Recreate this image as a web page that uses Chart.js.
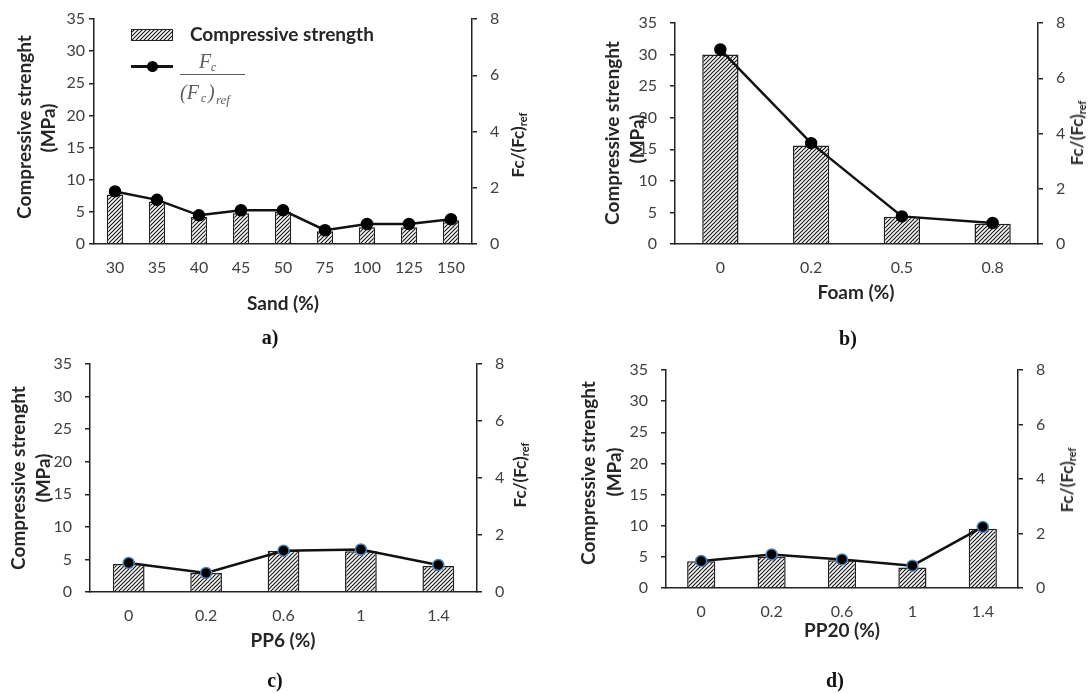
<!DOCTYPE html>
<html>
<head>
<meta charset="utf-8">
<script src="https://cdn.jsdelivr.net/npm/chart.js@4.4.1/dist/chart.umd.min.js"></script>
<style>
  body { margin: 0; background: #fff; }
  #wrap { position: relative; width: 1091px; height: 693px; overflow: hidden; font-family: Lato, sans-serif; }
  canvas { position: absolute; }
  .t { position: absolute; white-space: nowrap; transform: translate(-50%, -50%); color: #262626; font-weight: bold; font-size: 19px; }
  .rot { transform: translate(-50%, -50%) rotate(-90deg); }
  .r { font-size: 17px; }
  .r sub { font-size: 11px; vertical-align: -3px; }
  .cap { font-family: "Liberation Serif", serif; font-size: 20px; color: #111; }
</style>
</head>
<body>
<div id="wrap">
  <!-- axis titles -->
  <div class="t rot" style="left:23px;top:127px">Compressive strenght</div>
  <div class="t rot" style="left:47px;top:128px">(MPa)</div>
  <div class="t rot r" style="left:518px;top:145px">Fc/(Fc)<sub>ref</sub></div>
  <div class="t" style="left:283px;top:302px">Sand (%)</div>
  <div class="t cap" style="left:270px;top:337px">a)</div>

  <div class="t rot" style="left:611px;top:133px">Compressive strenght</div>
  <div class="t rot" style="left:636px;top:139px">(MPa)</div>
  <div class="t rot r" style="left:1077px;top:133px">Fc/(Fc)<sub>ref</sub></div>
  <div class="t" style="left:856px;top:291px">Foam (%)</div>
  <div class="t cap" style="left:848px;top:338px">b)</div>

  <div class="t rot" style="left:17px;top:478px">Compressive strenght</div>
  <div class="t rot" style="left:42px;top:478px">(MPa)</div>
  <div class="t rot r" style="left:520px;top:475px">Fc/(Fc)<sub>ref</sub></div>
  <div class="t" style="left:283px;top:639px">PP6 (%)</div>
  <div class="t cap" style="left:275px;top:680px">c)</div>

  <div class="t rot" style="left:587px;top:473px">Compressive strenght</div>
  <div class="t rot" style="left:613px;top:472px">(MPa)</div>
  <div class="t rot r" style="left:1067px;top:480px">Fc/(Fc)<sub>ref</sub></div>
  <div class="t" style="left:842px;top:629px">PP20 (%)</div>
  <div class="t cap" style="left:835px;top:680px">d)</div>
</div>
<script>
// data
const sandLabels = ['30', '35', '40', '45', '50', '75', '100', '125', '150'];
const sandStrength = [7.7, 6.6, 4.2, 4.8, 5.0, 2.0, 2.6, 2.6, 3.7];
const sandRatio = [1.87, 1.57, 1.02, 1.2, 1.2, 0.49, 0.71, 0.71, 0.88];

const foamLabels = ['0', '0.2', '0.5', '0.8'];
const foamStrength = [30.0, 15.6, 4.3, 3.2];
const foamRatio = [7.04, 3.65, 1.0, 0.76];

const pp6Labels = ['0', '0.2', '0.6', '1', '1.4'];
const pp6Strength = [4.3, 2.9, 6.35, 6.25, 4.0];
const pp6Ratio = [1.02, 0.67, 1.45, 1.49, 0.95];

const pp20Labels = ['0', '0.2', '0.6', '1', '1.4'];
const pp20Strength = [4.3, 5.0, 4.45, 3.3, 9.5];
const pp20Ratio = [0.99, 1.23, 1.05, 0.82, 2.24];

// hatch fill for the bars
function makeHatch() {
    const s = 4;
    const c = document.createElement('canvas');
    c.width = s;
    c.height = s;
    const g = c.getContext('2d');
    g.fillStyle = '#fff';
    g.fillRect(0, 0, s, s);
    g.strokeStyle = '#1a1a1a';
    g.lineWidth = 1.2;
    g.beginPath();
    g.moveTo(0, s); g.lineTo(s, 0);
    g.moveTo(-1, 1); g.lineTo(1, -1);
    g.moveTo(s - 1, s + 1); g.lineTo(s + 1, s - 1);
    g.stroke();
    return g.createPattern(c, 'repeat');
}
const hatch = makeHatch();

// legend only in panel a
const legendA = {
    id: 'legendA',
    afterDraw(chart) {
        const ctx = chart.ctx;
        ctx.save();
        ctx.fillStyle = hatch;
        ctx.fillRect(131, 29, 41, 11);
        ctx.strokeStyle = '#222';
        ctx.lineWidth = 1;
        ctx.strokeRect(131.5, 29.5, 41, 11);

        ctx.fillStyle = '#262626';
        ctx.font = 'bold 19px Lato';
        ctx.textBaseline = 'middle';
        ctx.fillText('Compressive strength', 190, 35);

        ctx.strokeStyle = '#111';
        ctx.lineWidth = 3;
        ctx.beginPath();
        ctx.moveTo(131, 66.5);
        ctx.lineTo(173, 66.5);
        ctx.stroke();
        ctx.fillStyle = '#000';
        ctx.beginPath();
        ctx.arc(152.5, 66.5, 5.5, 0, Math.PI * 2);
        ctx.fill();

        // Fc / (Fc)ref
        ctx.fillStyle = '#5e5e5e';
        ctx.strokeStyle = '#5e5e5e';
        ctx.textBaseline = 'alphabetic';
        ctx.font = 'italic 20px "Liberation Serif"';
        ctx.fillText('F', 199, 68);
        ctx.font = 'italic 12px "Liberation Serif"';
        ctx.fillText('c', 211, 71);
        ctx.lineWidth = 1;
        ctx.beginPath();
        ctx.moveTo(180, 74.5);
        ctx.lineTo(245, 74.5);
        ctx.stroke();
        ctx.font = 'italic 20px "Liberation Serif"';
        ctx.fillText('(F', 180, 99);
        ctx.font = 'italic 12px "Liberation Serif"';
        ctx.fillText('c', 201, 102);
        ctx.font = 'italic 20px "Liberation Serif"';
        ctx.fillText(')', 208, 99);
        ctx.font = 'italic 13px "Liberation Serif"';
        ctx.fillText('ref', 216, 104);
        ctx.restore();
    }
};

function makePanel(p) {
    const cv = document.createElement('canvas');
    cv.width = p.w;
    cv.height = p.h;
    cv.style.left = p.x + 'px';
    cv.style.top = p.y + 'px';
    const wrap = document.getElementById('wrap');
    wrap.insertBefore(cv, wrap.firstChild);

    const tickFont = { family: 'Lato', size: p.fs };

    new Chart(cv, {
        data: {
            labels: p.labels,
            datasets: [
                {
                    type: 'line',
                    data: p.ratio,
                    yAxisID: 'y1',
                    order: 0,
                    borderColor: '#111',
                    borderWidth: 2.5,
                    tension: 0,
                    pointRadius: 5.5,
                    pointBackgroundColor: '#000',
                    pointBorderColor: p.edge,
                    pointBorderWidth: 1.5
                },
                {
                    type: 'bar',
                    data: p.strength,
                    yAxisID: 'y',
                    order: 1,
                    backgroundColor: hatch,
                    borderColor: '#222',
                    borderWidth: 1.5,
                    barPercentage: p.bp,
                    categoryPercentage: 1
                }
            ]
        },
        options: {
            responsive: false,
            animation: false,
            layout: { padding: { top: p.t - p.y, left: 0, right: 0, bottom: 0 } },
            plugins: { legend: { display: false }, tooltip: { enabled: false } },
            scales: {
                x: {
                    offset: true,
                    grid: { display: false },
                    border: { color: '#222', width: 1.5 },
                    ticks: { font: tickFont, color: '#404040', padding: 6, maxRotation: 0, autoSkip: false },
                    afterFit(s) {
                        s.height = p.y + p.h - p.b;
                        s.paddingLeft = 0;
                        s.paddingRight = 0;
                    }
                },
                y: {
                    position: 'left',
                    min: 0,
                    max: 35,
                    ticks: { stepSize: 5, font: tickFont, color: '#404040', padding: p.gapL },
                    grid: { drawOnChartArea: false, tickLength: 5, color: '#222', lineWidth: 1.5 },
                    border: { color: '#222', width: 1.5 },
                    afterFit(s) {
                        s.width = p.l - p.x;
                        s.paddingTop = 0;
                        s.paddingBottom = 0;
                    }
                },
                y1: {
                    position: 'right',
                    min: 0,
                    max: 8,
                    ticks: { stepSize: 2, font: tickFont, color: '#404040', padding: p.gapR },
                    grid: { drawOnChartArea: false, tickLength: 5, color: '#222', lineWidth: 1.5 },
                    border: { color: '#222', width: 1.5 },
                    afterFit(s) {
                        s.width = p.x + p.w - p.r;
                        s.paddingTop = 0;
                        s.paddingBottom = 0;
                    }
                }
            }
        },
        plugins: p.legend ? [legendA] : []
    });
}

makePanel({ x: 0, y: 0, w: 545, h: 330, l: 94, r: 472, t: 19, b: 244, fs: 16, gapL: 4, gapR: 13,
    labels: sandLabels, strength: sandStrength, ratio: sandRatio, bp: 0.39, edge: '#000', legend: true });
makePanel({ x: 545, y: 0, w: 546, h: 330, l: 675, r: 1038, t: 23, b: 244, fs: 16, gapL: 13, gapR: 13,
    labels: foamLabels, strength: foamStrength, ratio: foamRatio, bp: 0.40, edge: '#000' });
makePanel({ x: 0, y: 330, w: 545, h: 363, l: 90, r: 477, t: 364, b: 592, fs: 16, gapL: 13, gapR: 13,
    labels: pp6Labels, strength: pp6Strength, ratio: pp6Ratio, bp: 0.41, edge: '#4f81bd' });
makePanel({ x: 545, y: 330, w: 546, h: 363, l: 666, r: 1018, t: 370, b: 588, fs: 16, gapL: 13, gapR: 13,
    labels: pp20Labels, strength: pp20Strength, ratio: pp20Ratio, bp: 0.40, edge: '#4f81bd' });
</script>
</body>
</html>
